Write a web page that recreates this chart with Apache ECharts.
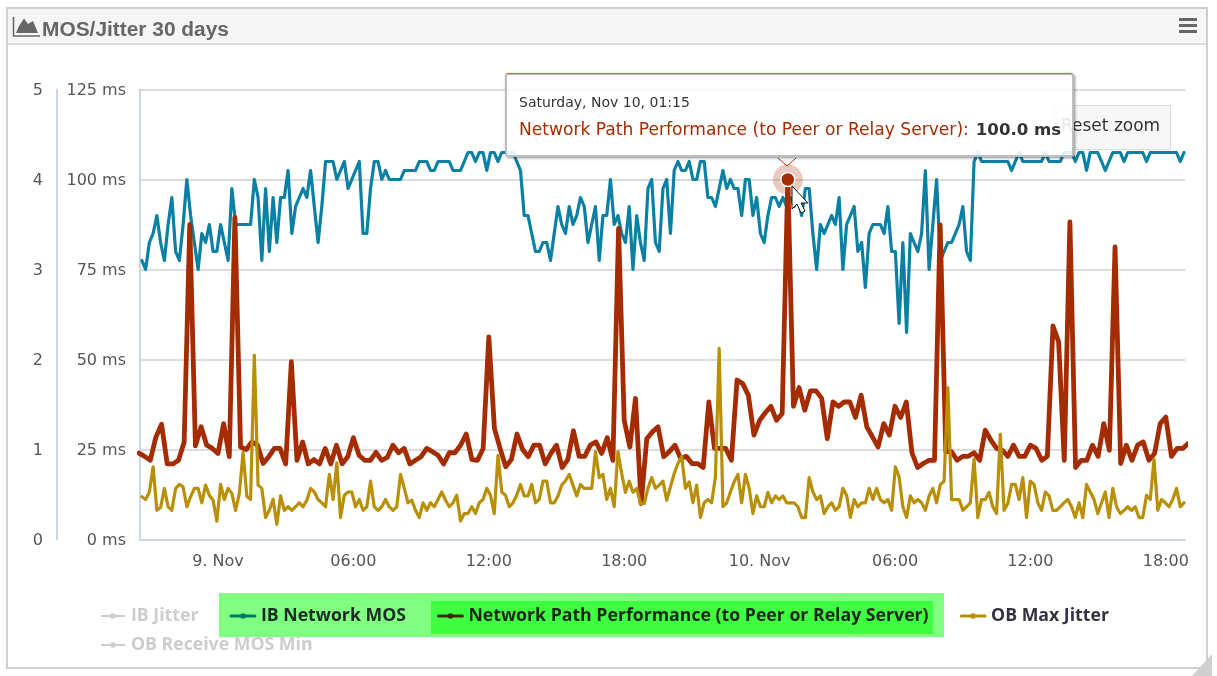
<!DOCTYPE html>
<html><head><meta charset="utf-8">
<style>html,body{margin:0;padding:0;background:#fff}#c{width:1217px;height:676px}</style>
<script src="https://cdn.jsdelivr.net/npm/echarts@6/dist/echarts.min.js"></script>
</head><body><div id="c"></div>
<script>
const ibNetworkMos = [
3.1,3.0,3.3,3.4,3.6,3.3,3.1,3.5,3.8,3.2,3.1,3.5,4.0,3.6,3.3,3.0,3.4,3.3,3.5,3.2,3.2,3.5,3.3,3.1,3.9,
3.5,3.5,3.5,3.5,3.5,4.0,3.8,3.1,3.9,3.2,3.8,3.3,3.8,3.8,4.1,3.4,3.7,3.8,3.9,3.8,4.1,3.7,3.3,3.7,4.2,
4.2,4.2,4.0,4.1,4.2,3.9,4.0,4.1,4.2,3.4,3.4,3.9,4.2,4.2,4.0,4.1,4.0,4.0,4.0,
4.0,4.1,4.1,4.1,4.1,4.2,4.2,4.2,4.1,4.1,4.2,4.2,4.2,4.2,4.1,4.1,4.1,4.2,4.3,4.3,4.2,4.3,4.3,4.1,4.3,
4.3,4.2,4.3,4.3,4.3,4.3,4.2,4.1,3.6,3.6,3.4,3.2,3.2,3.3,3.3,3.1,3.4,
3.7,3.5,3.4,3.7,3.5,3.6,3.8,3.7,3.3,3.5,3.7,3.1,3.6,3.6,4.0,3.5,3.6,3.4,3.3,3.7,3.0,3.6,3.3,3.1,3.9,
4.0,3.3,3.2,3.9,4.0,3.4,
4.1,4.2,4.1,4.1,4.2,4.0,4.0,4.2,4.2,3.8,3.8,3.7,3.9,4.1,3.9,4.0,3.9,3.9,3.6,4.0,4.0,3.6,3.8,3.4,3.3,
3.6,3.8,3.8,3.7,3.8,3.7,3.8,3.7,3.8,3.6,3.9,3.9,3.4,3.0,3.5,3.4,3.5,3.6,3.5,3.8,3.0,3.5,3.6,3.7,3.2,
3.3,2.8,3.4,3.5,3.5,3.5,3.4,3.7,3.2,3.2,2.4,3.3,2.3,3.4,3.3,3.2,3.4,4.1,3.0,3.5,4.0,3.1,
3.2,3.3,3.3,3.4,3.5,3.7,3.2,3.1,4.2,4.3,
4.2,4.2,4.2,4.2,4.2,4.2,4.2,4.2,4.1,4.2,4.3,4.2,4.2,4.2,4.2,4.2,4.2,4.3,4.2,4.2,4.2,4.2,
4.3,4.3,4.3,4.2,4.3,4.3,4.1,4.3,4.3,4.3,4.2,4.1,4.2,4.3,4.3,4.3,4.2,4.3,4.3,4.3,4.3,4.3,4.2,
4.3,4.3,4.3,4.3,4.3,4.3,4.3,4.3,4.2,4.3];

const networkPathMs = [
24,23.1,22,28.5,32,21,21,22,27,87.5,26,31.3,26.2,25.3,23.9,32.2,23,89.5,25.7,25,27.1,26.2,21.1,23,25.3,25.3,21,49.4,22,27.1,
21,22.2,21,25.3,21,26.2,21,23,28.3,23.4,22,22,24.2,22,22.8,26.2,24.1,
25.3,21,22,23,25.3,24.4,23.4,21,24.1,24.1,26.2,29.3,22.2,22,25.3,56.3,30.8,25.3,20.2,22.2,29.3,25,23,26.2,26.2,21,23.9,26.2,20,22.2,
30.2,23.1,23.1,26.2,27.1,23.9,28.3,22,86.4,33.1,25.7,39.2,10,28,29.9,31.3,23,24.4,
26.2,22.5,23.1,21.1,21.1,20,38.2,25.3,25.3,25.3,22,44.3,43.3,40.1,29,33.1,35.2,37,33.1,35,100,
37,42.2,35.9,41.3,41.3,39.2,28,38.2,37,38.2,38.2,33.9,40.1,31.3,28.5,25.7,32.2,29,37,33.9,38.2,24.1,20,21.1,22,22,87.4,
24.4,24.4,22,23.1,23.1,24.1,22,30.4,27.6,25.3,24.8,23.1,26.2,23.1,23.1,26.2,25.3,22,23.1,59.3,54.9,22,88.2,20,22,22,26.2,23.1,32.2,24.8,81.3,
21.1,26.2,22,26.2,27.1,22,23.9,32.2,34,23.1,25.3,25.3,26.7];

const obMaxJitter = [
11.9,11.1,13.2,20.2,8.1,8.9,14.2,9.1,8.1,14.2,15.3,14.6,9.1,11.9,14.2,14.2,10.2,15.1,12.3,10.9,5.1,15.3,11.1,14.2,12.8,8.1,12.8,24.2,12,11.1,
51.2,15.1,14.2,6.1,8.1,11.2,4.2,12.1,8.1,9.1,8.1,9.1,10.2,9.1,10.9,14.2,13.2,11.1,10.2,9.1,18.1,11.1,21.3,6.1,12.3,13.2,13.2,9.1,11.1,8.1,
9.1,16.2,9.1,8.1,9.1,11.1,9.1,8.1,9.1,18.1,
14.2,10.2,10.9,8.1,6.1,10.2,8.1,10.2,9.1,11.1,13.2,10.9,9.1,10.2,12.3,5.1,7.2,7.2,9.1,7.2,10.2,11.1,14.2,12.3,7.2,23.4,13.2,12.3,9.1,10.2,
12.3,15.3,12.1,12.1,15.3,10.2,11.1,16.2,16.2,10.2,10.2,12.1,15.1,16.3,18.1,15.1,12.1,15.3,14.2,14.2,14.2,24.4,17.2,18.1,11.1,14.2,9.1,24.4,18.3,13.1,
16.2,13.1,14.2,10,10,14.2,17.2,14.2,15.1,16.2,10.9,
14.6,18.3,21.1,23,14.2,16,10.2,15.1,6.1,10.2,11.1,10.2,17.4,53.1,9.1,10.2,13.2,16,18.1,10.2,18.1,14.2,7.2,12.1,9.1,9.1,13.1,10.2,12.1,11.1,12.1,
10.2,10.2,10.2,9.1,6.1,6.1,17.2,13.2,11.1,12.1,7.2,9.1,10.2,8.1,9.1,14.2,12.3,6.1,11.1,9.1,10.2,10.2,14.2,11.1,14.2,11.1,10.2,11.1,8.1,20.2,17.4,
9.1,6.1,12.1,10.2,11.1,10.2,8.1,12.1,14.2,10.2,15.3,
16.2,42.2,11.1,11.1,11.1,8.1,9.1,10.2,22.3,6.1,11.1,11.1,13.1,9.1,7.2,29.3,8.1,10,15.3,15.3,11.1,17.2,6.1,16.2,15.3,10.2,8.1,13.2,12.1,8.1,8.1,9.1,
10.2,11.1,9.1,6.1,10.2,6.1,15.3,13.2,11.1,7.2,10.2,13.2,6.1,14.2,9.1,7.2,8.1,9.1,8.1,9.1,6.1,6.1,12.3,11.1,22.3,8.1,11.1,10.2,9.1,11.1,14.2,9.1,10.2];

const ibJitter = [];
const obReceiveMosMin = [];

const seriesNames = ['IB Jitter','IB Network MOS','Network Path Performance (to Peer or Relay Server)','OB Max Jitter','OB Receive MOS Min'];
const hoveredIndex = 115;
const STEP_FINE = 598000, STEP_15 = 900000;
const axisStart = new Date(2018,10,8,20,32,39).getTime();
const axisEnd = new Date(2018,10,10,18,51,0).getTime();
const fineStart = new Date(2018,10,8,20,37,38).getTime();
const sample15Start = new Date(2018,10,8,20,30).getTime();

const pairFine = a => a.map((v,i)=>[fineStart+i*STEP_FINE,v]);
const pair15 = a => a.map((v,i)=>[sample15Start+i*STEP_15,v]);
const pad = n => String(n).padStart(2,'0');
const days=['Sunday','Monday','Tuesday','Wednesday','Thursday','Friday','Saturday'];
const months=['Jan','Feb','Mar','Apr','May','Jun','Jul','Aug','Sep','Oct','Nov','Dec'];

const TEAL='#0a80a4', RED='#a52c00', GOLD='#b88f07';
const font='"DejaVu Sans"';
const legendFont='"Open Sans"';
const hidden={'IB Jitter':false,'OB Receive MOS Min':false};
function lineSeries(name,color,width,yAxisIndex,data,extra){
  return Object.assign({name,type:'line',yAxisIndex,data,symbol:'circle',showSymbol:false,symbolSize:7,
    sampling:false,clip:true,animation:false,silent:true,
    lineStyle:{color,width,join:'round',cap:'round'},itemStyle:{color},
    emphasis:{disabled:true}},extra||{});
}
function legendItem(name,color,text){
  return {name,itemStyle:{color,borderWidth:0},lineStyle:{color,width:3,inactiveColor:'#ccc'},textStyle:{color:text}};
}
const chart=echarts.init(document.getElementById('c'),null,{renderer:'canvas'});
const hoverPoint=[sample15Start+hoveredIndex*STEP_15,networkPathMs[hoveredIndex]];
const legendText={fontFamily:legendFont,fontSize:17.7,fontWeight:'bold',padding:[0,0,0,1]};
chart.setOption({
  animation:false,
  backgroundColor:'#fff',
  grid:{left:140,top:89.5,width:1045,height:450,containLabel:false},
  xAxis:{type:'time',min:axisStart,max:axisEnd,splitNumber:4,
    axisLine:{show:true,onZero:false,lineStyle:{color:'#ccd6eb',width:2}},
    axisTick:{show:false},splitLine:{show:false},minorTick:{show:false},
    axisLabel:{color:'#555',fontFamily:font,fontSize:16,margin:14,hideOverlap:false,showMinLabel:false,showMaxLabel:false,
      formatter:v=>{const d=new Date(v);return d.getHours()===0?d.getDate()+'. '+months[d.getMonth()]:pad(d.getHours())+':'+pad(d.getMinutes());}}},
  yAxis:[
    {type:'value',position:'left',min:0,max:125,interval:25,
      axisLine:{show:true,onZero:false,lineStyle:{color:'#ccd6eb',width:2}},axisTick:{show:false},
      splitLine:{show:true,lineStyle:{color:'#dcdcdc',width:2}},
      axisLabel:{color:'#555',fontFamily:font,fontSize:16,margin:14,verticalAlign:'top',lineHeight:3,formatter:v=>v+' ms'}},
    {type:'value',position:'left',offset:83,min:0,max:5,interval:1,
      axisLine:{show:true,onZero:false,lineStyle:{color:'#ccd6eb',width:2}},axisTick:{show:false},
      splitLine:{show:false},
      axisLabel:{color:'#555',fontFamily:font,fontSize:16,margin:14,verticalAlign:'top',lineHeight:3}}
  ],
  legend:[
    {left:95,top:602,orient:'horizontal',itemGap:31,itemWidth:24,itemHeight:7,
     inactiveColor:'#ccc',selected:hidden,selectedMode:false,textStyle:legendText,
     data:[legendItem(seriesNames[0],'#ccc','#ccc'),legendItem(seriesNames[1],'#007a62','#1b2a22'),
           legendItem(seriesNames[2],'#3c2a00','#142814'),legendItem(seriesNames[3],GOLD,'#333344')]},
    {left:95,top:631,orient:'horizontal',itemWidth:24,itemHeight:7,
     inactiveColor:'#ccc',selected:hidden,selectedMode:false,textStyle:legendText,
     data:[legendItem(seriesNames[4],'#ccc','#ccc')]}
  ],
  tooltip:{show:true,trigger:'item',alwaysShowContent:true,transitionDuration:0,showDelay:0,hideDelay:0,enterable:false,
    backgroundColor:'rgba(255,255,255,0.88)',borderWidth:0,padding:0,
    position:()=>[505,73],
    extraCssText:'width:569px;height:84px;box-sizing:border-box;border:2px solid #bdbdbd;border-top:1px solid #c4704f;border-radius:3px;box-shadow:1px 1px 3px rgba(0,0,0,.45),inset 0 1px 0 #bbb;',
    formatter:p=>{const d=new Date(p.value[0]);
      return '<div style="padding:21px 0 0 12px;font-family:'+"'DejaVu Sans'"+';white-space:nowrap;line-height:1">'+
      '<div style="font-size:14px;color:#333">'+days[d.getDay()]+', '+months[d.getMonth()]+' '+d.getDate()+', '+pad(d.getHours())+':'+pad(d.getMinutes())+'</div>'+
      '<div style="font-size:17.1px;margin-top:12px;color:'+RED+'">'+p.seriesName+':<b style="color:#333;margin-left:7px;font-size:16.6px">'+p.value[1].toFixed(1)+' ms</b></div></div>';}},
  series:[
    lineSeries(seriesNames[0],'#ccc',3,0,pairFine(ibJitter)),
    lineSeries(seriesNames[1],TEAL,3.2,1,pairFine(ibNetworkMos)),
    lineSeries(seriesNames[2],RED,4.8,0,pair15(networkPathMs),{
      silent:false,showSymbol:true,showAllSymbol:true,
      symbolSize:(v,p)=>p.dataIndex===hoveredIndex?14:0,
      itemStyle:{color:RED,borderColor:'#fff',borderWidth:1.5},
      z:3,
      markPoint:{silent:true,animation:false,label:{show:false},symbol:'circle',z:2,
        data:[{coord:hoverPoint,symbolSize:30,itemStyle:{color:'rgba(165,44,0,0.25)',borderWidth:0}}]}}),
    lineSeries(seriesNames[3],GOLD,3.2,0,pairFine(obMaxJitter)),
    lineSeries(seriesNames[4],'#ccc',3,1,pairFine(obReceiveMosMin))
  ],
  graphic:[
    {type:'rect',silent:true,z:0,shape:{x:7,y:8,width:1200,height:660},style:{fill:'none',stroke:'#cfcfcf',lineWidth:2}},
    {type:'rect',silent:true,z:0,shape:{x:8,y:9,width:1198,height:35},style:{fill:'#f5f5f5'}},
    {type:'line',silent:true,z:0,shape:{x1:8,y1:44,x2:1206,y2:44},style:{stroke:'#dcdcdc',lineWidth:2}},
    {type:'polyline',silent:true,z:1,shape:{points:[[13.5,17],[13.5,36],[40,36]]},style:{stroke:'#666',lineWidth:1.5,fill:'none'}},
    {type:'polygon',silent:true,z:1,shape:{points:[[16,33],[19,26],[24,18.5],[28,24],[33,21],[38,33]]},style:{fill:'#666'}},
    {type:'text',silent:true,z:1,style:{x:42,y:30,text:'MOS/Jitter 30 days',font:'bold 20.9px "Liberation Sans"',fill:'#666',textVerticalAlign:'middle'}},
    {type:'rect',silent:true,z:1,shape:{x:1179,y:18,width:18,height:3},style:{fill:'#666'}},
    {type:'rect',silent:true,z:1,shape:{x:1179,y:24,width:18,height:3},style:{fill:'#666'}},
    {type:'rect',silent:true,z:1,shape:{x:1179,y:30,width:18,height:3},style:{fill:'#666'}},
    {type:'polygon',silent:true,z:1,shape:{points:[[1212,654],[1212,676],[1192,676]]},style:{fill:'#cfcfcf'}},
    {type:'rect',silent:true,z:1,shape:{x:219,y:593,width:725,height:44},style:{fill:'#80ff80'}},
    {type:'rect',silent:true,z:1,shape:{x:431,y:601,width:502,height:33},style:{fill:'#40ff40'}},
    {type:'rect',silent:true,z:6,shape:{x:1053.5,y:105.5,width:117,height:44},style:{fill:'#f7f7f7',stroke:'#dcdcdc',lineWidth:1}},
    {type:'text',silent:true,z:7,style:{x:1061,y:127,text:'Reset zoom',font:'17px "DejaVu Sans"',fill:'#333',textVerticalAlign:'middle'}},
    {type:'polyline',silent:true,z:7,shape:{points:[[778,158],[787,166],[796,158]]},style:{stroke:RED,lineWidth:1,fill:'none'}},
    {type:'polygon',silent:true,z:8,shape:{points:[[792,186],[792,209],[797,204],[801,213],[805,211],[801,203],[808,203]]},style:{fill:'#fff',stroke:'#111',lineWidth:1}}
  ]
});
chart.dispatchAction({type:'showTip',seriesIndex:2,dataIndex:hoveredIndex});
</script></body></html>
